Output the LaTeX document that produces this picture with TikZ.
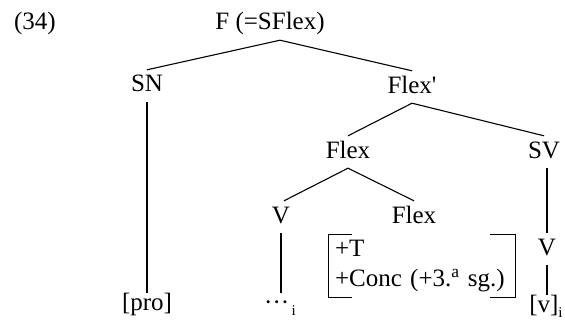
\documentclass[tikz,border=0pt]{standalone}
\usepackage{fontspec}
\setmainfont{Liberation Serif}
\usepackage{tikz}

\begin{document}
\begin{tikzpicture}[x=1pt, y=-1pt,
    cat/.style={font=\fontsize{25}{30}\selectfont, anchor=base, text height=17pt, text depth=5pt, inner xsep=1pt, inner ysep=5pt},
    leaf/.style={cat, text height=12pt},
    feat/.style={font=\fontsize{25}{30}\selectfont, text width=174pt, align=left, inner xsep=6pt, inner ysep=0pt, minimum height=62pt},
    branch/.style={line width=1.1pt}
  ]
    \useasboundingbox (0,0) rectangle (565,329);
    \node[cat] (num) at (35,30) {(34)};
    \node[cat] (top) at (270,30) {F (=SFlex)};
    \node[cat] (sn) at (147,92) {SN};
    \node[cat] (flp) at (412,93) {Flex\textquotesingle};
    \node[cat] (fl1) at (348,158) {Flex};
    \node[cat] (sv) at (544,158) {SV};
    \node[cat] (v1) at (281,223) {V};
    \node[cat] (fl2) at (414,223) {Flex};
    \node[cat] (v2) at (547,255) {V};
    \node[feat] (fbox) at (422,266) {+T\\+Conc (+3.\textsuperscript{a} sg.)};
    \node[leaf] (pro) at (147,310) {[pro]};
    \node[leaf] (dots) at (280,310) {···\raisebox{-5pt}{\fontsize{15}{15}\selectfont\,i}};
    \node[leaf] (vi) at (546,312) {[v]\raisebox{-5pt}{\fontsize{15}{15}\selectfont i}};

    \draw[branch] ([xshift=10pt]top.south) -- (sn.north);
    \draw[branch] ([xshift=10pt]top.south) -- (flp.north);
    \draw[branch] (sn.south) -- (sn.south |- pro.north);
    \draw[branch] (flp.south) -- (fl1.north);
    \draw[branch] (flp.south) -- (sv.north);
    \draw[branch] (fl1.south) -- ([xshift=3pt]v1.north);
    \draw[branch] (fl1.south) -- (fl2.north);
    \draw[branch] (v1.south) -- (v1.south |- dots.north);
    \draw[branch] (v2.north |- sv.south) -- (v2.north);
    \draw[branch] (v2.south) -- (v2.south |- vi.north);
    % feature bracket
    \draw[branch] ([xshift=23pt]fbox.north west) -- (fbox.north west) -- (fbox.south west) -- ++(23,0);
    \draw[branch] ([xshift=-25pt]fbox.north east) -- (fbox.north east) -- (fbox.south east) -- ++(-25,0);
  \end{tikzpicture}
\end{document}
